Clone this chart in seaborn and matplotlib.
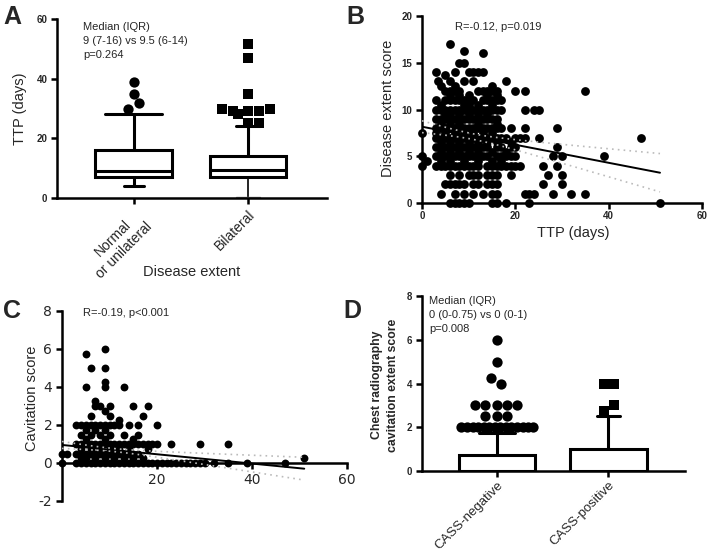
import numpy as np
import pandas as pd
import matplotlib
matplotlib.use("Agg")
import matplotlib.pyplot as plt
import seaborn as sns
from matplotlib.patches import Rectangle

# ---------------- Panel A: TTP by disease extent (box plot stats) ----------------
a_groups = ["Normal\nor unilateral", "Bilateral"]
a_whislo = [4, 0.5]
a_q1 = [7, 7]
a_med = [9, 9.5]
a_q3 = [16, 14]
a_whishi = [28, 24]
a_cap_top = [0.5, 0.21]
a_cap_bot = [0.175, 0.21]
a_out_normal_y = [30, 32, 35, 39]
a_out_normal_dx = [-0.05, 0.045, 0.0, 0.0]
a_out_bil_y = [25.2, 25.2, 28, 29, 29, 29, 30, 30, 35, 47, 51.5]
a_out_bil_dx = [0.0, 0.1, -0.09, -0.13, 0.0, 0.1, -0.225, 0.19, 0.0, 0.0, 0.0]
a_ticks = [0, 20, 40, 60]

# ---------------- Panel B: disease extent score vs TTP ----------------
b_rows = {
    17: [6], 16.3: [9], 16: [13], 15: [8, 9],
    14: [3, 7, 10, 11, 12, 13], 13.7: [5],
    13: [3.5, 6, 9, 11, 18], 12.5: [4, 7, 15],
    12: [5, 6, 7, 8, 12, 13, 14, 15, 16, 20, 22, 35],
    11.5: [6, 8, 10, 14, 16],
    11: [3, 5, 6, 7, 8, 9, 10, 11, 13, 14, 15, 16, 17],
    10.5: [4, 9, 10, 12, 15],
    10: [3, 4, 5, 6, 7, 8, 9, 10, 11, 12, 13, 14, 15, 16, 17, 22, 24, 25],
    9.5: [5, 6, 8, 10, 12, 14],
    9: [3, 4, 5, 6, 7, 8, 9, 10, 11, 12, 13, 14, 15, 16],
    8.5: [4, 6, 8, 12, 16],
    8: [3, 4, 5, 6, 7, 8, 9, 10, 11, 12, 13, 14, 15, 16, 17, 19, 22, 29],
    7.5: [0, 3, 5, 7, 9, 11, 13, 15],
    7: [3, 4, 5, 6, 7, 8, 9, 10, 11, 12, 13, 14, 15, 16, 17, 18, 20, 21, 22, 25, 47],
    6.5: [4, 6, 8, 10, 12, 14, 16, 19],
    6: [3, 4, 5, 6, 7, 8, 9, 10, 11, 12, 13, 14, 16, 17, 19, 20, 29],
    5.5: [4, 6, 8, 10, 12, 15, 18],
    5: [0, 3, 4, 5, 6, 7, 8, 9, 10, 11, 12, 13, 14, 16, 17, 18, 19, 20, 28, 30, 39],
    4.5: [1, 4, 6, 9, 12, 15, 17],
    4: [0, 3, 4, 5, 6, 7, 8, 9, 10, 11, 12, 14, 15, 16, 17, 18, 19, 20, 21, 26, 29],
    3: [6, 8, 10, 11, 12, 14, 15, 16, 19, 27, 30],
    2: [5, 6, 7, 8, 9, 11, 12, 14, 15, 16, 26, 30],
    1: [4, 7, 9, 11, 13, 15, 16, 22, 23, 24, 28, 32, 35],
    0: [6, 7, 8, 9, 10, 15, 16, 18, 23, 51],
}
b_fit_intercept = 8.16
b_fit_slope = -0.0965
b_fit_xmax = 51
b_ci_xbar = 11
b_ci_center = 0.3
b_ci_end = 2.05
b_xticks = [0, 20, 40, 60]
b_yticks = [0, 5, 10, 15, 20]

# ---------------- Panel C: cavitation score vs TTP ----------------
c_rows = {
    6: [9], 5.75: [5], 5: [6, 9], 4.25: [9], 4: [5, 9, 13],
    3.25: [7], 3: [7, 8, 10, 15, 18], 2.75: [9], 2.5: [6, 10, 17], 2.25: [12],
    2: [3, 4, 5, 6, 7, 8, 9, 10, 11, 12, 14, 16, 20],
    1.75: [5, 7, 9], 1.5: [4, 6, 8, 10, 13, 16], 1.25: [5, 9, 15],
    1: [3, 4, 5, 6, 7, 8, 9, 10, 11, 12, 13, 14, 15, 16, 17, 18, 19, 20, 23, 29, 35],
    0.75: [4, 6, 8, 10, 12, 14, 18],
    0.5: [0, 1, 3, 4, 5, 6, 7, 8, 9, 10, 11, 12, 13, 14, 15, 16],
    0.25: [4, 5, 7, 9, 11, 13, 15, 17, 51],
    0: [0, 3, 4, 5, 6, 7, 8, 9, 10, 11, 12, 13, 14, 15, 16, 17, 18, 19, 20, 21, 22,
        23, 24, 25, 26, 27, 28, 29, 30, 32, 35, 39, 47],
}
c_fit_intercept = 0.95
c_fit_slope = -0.0245
c_fit_xmax = 51
c_ci_xbar = 11
c_ci_center = 0.08
c_ci_end = 0.6
c_xticks = [20, 40, 60]
c_yticks = [-2, 0, 2, 4, 6, 8]

# ---------------- Panel D: cavitation extent by CASS ----------------
d_groups = ["CASS-negative", "CASS-positive"]
d_q3 = [0.75, 1.0]
d_whishi = [1.75, 2.5]
d_cap_w = [0.33, 0.21]
d_neg_out_y = [2] * 14 + [2.5, 2.5, 2.5, 3, 3, 3, 3, 3, 4, 4.25, 5, 6]
d_neg_out_dx = [-0.32, -0.27, -0.22, -0.17, -0.12, -0.07, -0.02, 0.03, 0.08, 0.13,
                0.18, 0.23, 0.28, 0.32,
                -0.11, 0.0, 0.09, -0.2, -0.11, 0.0, 0.09, 0.18, 0.04, -0.05, 0.0, 0.0]
d_pos_out_y = [2.75, 3, 4, 4]
d_pos_out_dx = [-0.04, 0.05, -0.04, 0.05]
d_yticks = [0, 2, 4, 6, 8]

# ---------------- figure ----------------
sns.set_style("ticks")
plt.rcParams["font.family"] = ["Liberation Sans", "DejaVu Sans"]
W, H = 709, 559
fig = plt.figure(figsize=(W / 100, H / 100), dpi=100)

def rect(l, t, r, b):
    return [l / W, 1 - b / H, (r - l) / W, (b - t) / H]

LW = 1.8
TICKFONT = dict(fontsize=7, fontweight="bold")

def style_axes(ax):
    for s in ["top", "right"]:
        ax.spines[s].set_visible(False)
    for s in ["left", "bottom"]:
        ax.spines[s].set_linewidth(LW)
        ax.spines[s].set_color("black")
    ax.tick_params(width=LW, length=4, color="black", pad=3)

def ftext(x, y, s, **kw):
    fig.text(x / W, 1 - y / H, s, **kw)

# ---- A ----
axA = fig.add_axes(rect(57, 19, 327, 198))
style_axes(axA)
axA.set_xlim(-0.675, 1.693)
axA.set_ylim(0, 60)
bw = 0.675
for i in range(2):
    axA.add_patch(Rectangle((i - bw / 2, a_q1[i]), bw, a_q3[i] - a_q1[i],
                            fill=False, lw=2.2, ec="black", zorder=3))
    axA.plot([i - bw / 2, i + bw / 2], [a_med[i]] * 2, color="black", lw=2.2)
    axA.plot([i, i], [a_q3[i], a_whishi[i]], color="black", lw=2.2)
    axA.plot([i, i], [a_q1[i], a_whislo[i]], color="black", lw=2.2 if i == 0 else 1.2)
    axA.plot([i - a_cap_top[i] / 2, i + a_cap_top[i] / 2], [a_whishi[i]] * 2, color="black", lw=2.2)
    axA.plot([i - a_cap_bot[i] / 2, i + a_cap_bot[i] / 2], [a_whislo[i]] * 2,
             color="black" if i == 0 else "#888888", lw=2.2 if i == 0 else 1.0)
sns.scatterplot(x=np.array(a_out_normal_dx) + 0, y=a_out_normal_y, ax=axA, color="black",
                marker="o", s=55, linewidth=0, clip_on=False, zorder=4)
sns.scatterplot(x=np.array(a_out_bil_dx) + 1, y=a_out_bil_y, ax=axA, color="black",
                marker="s", s=45, linewidth=0, clip_on=False, zorder=4)
axA.set_yticks(a_ticks)
axA.set_yticklabels([str(t) for t in a_ticks], **TICKFONT)
axA.set_xticks([0, 1])
axA.set_xticklabels(a_groups, rotation=45, ha="right", rotation_mode="anchor",
                    fontsize=10, multialignment="center")
axA.set_ylabel("TTP (days)", fontsize=10.5)
axA.yaxis.set_label_coords((27 - 57) / 270, 0.5)
ftext(192, 272, "Disease extent", fontsize=10.5, ha="center", va="center")
ftext(83, 26.5, "Median (IQR)", fontsize=8, va="center")
ftext(83, 41, "9 (7-16) vs 9.5 (6-14)", fontsize=8, va="center")
ftext(83, 55, "p=0.264", fontsize=8, va="center")
ftext(3, 17, "A", fontsize=18, fontweight="bold", va="center")

# ---- B ----
axB = fig.add_axes(rect(422, 16, 702, 203))
style_axes(axB)
b_ttp = [x for y, xs in b_rows.items() for x in xs]
b_score = [y for y, xs in b_rows.items() for x in xs]
sns.scatterplot(x=b_ttp, y=b_score, ax=axB, color="black", s=40, linewidth=0,
                clip_on=False, zorder=3)
xx = np.linspace(0, b_fit_xmax, 60)
yy = b_fit_intercept + b_fit_slope * xx
k = (b_ci_end ** 2 - b_ci_center ** 2) / (b_fit_xmax - b_ci_xbar) ** 2
hw = np.sqrt(b_ci_center ** 2 + k * (xx - b_ci_xbar) ** 2)
axB.plot(xx, yy, color="black", lw=1.4, zorder=4)
axB.plot(xx, yy + hw, color="#bbbbbb", lw=1.2, ls=(0, (1, 2.5)), zorder=4)
axB.plot(xx, yy - hw, color="#bbbbbb", lw=1.2, ls=(0, (1, 2.5)), zorder=4)
axB.set_xlim(0, 60)
axB.set_ylim(0, 20)
axB.set_xticks(b_xticks)
axB.set_xticklabels([str(t) for t in b_xticks], **TICKFONT)
axB.set_yticks(b_yticks)
axB.set_yticklabels([str(t) for t in b_yticks], **TICKFONT)
axB.tick_params(axis="x", pad=1.5)
axB.set_xlabel("TTP (days)", fontsize=10.5)
axB.xaxis.set_label_coords((573 - 422) / 280, -(226 - 203) / 187)
axB.set_ylabel("Disease extent score", fontsize=10.5)
axB.yaxis.set_label_coords((395 - 422) / 280, (203 - 108) / 187)
ftext(455, 27, "R=-0.12, p=0.019", fontsize=8, va="center")
ftext(346, 17, "B", fontsize=18, fontweight="bold", va="center")

# ---- C ----
axC = fig.add_axes(rect(62, 311, 347, 501))
style_axes(axC)
axC.spines["bottom"].set_position(("data", 0))
c_ttp = [x for y, xs in c_rows.items() for x in xs]
c_score = [y for y, xs in c_rows.items() for x in xs]
sns.scatterplot(x=c_ttp, y=c_score, ax=axC, color="black", s=32, linewidth=0,
                clip_on=False, zorder=3)
xx = np.linspace(0, c_fit_xmax, 60)
yy = c_fit_intercept + c_fit_slope * xx
k = (c_ci_end ** 2 - c_ci_center ** 2) / (c_fit_xmax - c_ci_xbar) ** 2
hw = np.sqrt(c_ci_center ** 2 + k * (xx - c_ci_xbar) ** 2)
axC.plot(xx, yy, color="black", lw=1.4, zorder=4)
axC.plot(xx, yy + hw, color="#bbbbbb", lw=1.2, ls=(0, (1, 2.5)), zorder=4)
axC.plot(xx, yy - hw, color="#bbbbbb", lw=1.2, ls=(0, (1, 2.5)), zorder=4)
axC.set_xlim(0, 60)
axC.set_ylim(-2, 8)
axC.set_xticks(c_xticks)
axC.set_xticklabels([str(t) for t in c_xticks], fontsize=10, family="DejaVu Sans")
axC.set_yticks(c_yticks)
axC.set_yticklabels([str(t) for t in c_yticks], fontsize=10, family="DejaVu Sans")
axC.set_ylabel("Cavitation score", fontsize=10.5)
axC.yaxis.set_label_coords((39 - 62) / 285, (501 - 398) / 190)
ftext(83, 313, "R=-0.19, p<0.001", fontsize=8, va="center")
ftext(3, 311, "C", fontsize=18, fontweight="bold", va="center")

# ---- D ----
axD = fig.add_axes(rect(422, 296, 685, 471))
style_axes(axD)
dfD = pd.DataFrame({"group": d_groups, "value": d_q3})
sns.barplot(data=dfD, x="group", y="value", ax=axD, color="white", edgecolor="black",
            linewidth=2.2, width=0.69, errorbar=None, zorder=3)
for i in range(2):
    axD.plot([i, i], [d_q3[i], d_whishi[i]], color="black", lw=2.2, zorder=2)
    axD.plot([i - d_cap_w[i] / 2, i + d_cap_w[i] / 2], [d_whishi[i]] * 2, color="black", lw=2.2)
sns.scatterplot(x=np.array(d_neg_out_dx) + 0, y=d_neg_out_y, ax=axD, color="black",
                marker="o", s=55, linewidth=0, clip_on=False, zorder=4)
sns.scatterplot(x=np.array(d_pos_out_dx) + 1, y=d_pos_out_y, ax=axD, color="black",
                marker="s", s=45, linewidth=0, clip_on=False, zorder=4)
axD.set_xlim(-0.674, 1.69)
axD.set_ylim(0, 8)
axD.set_yticks(d_yticks)
axD.set_yticklabels([str(t) for t in d_yticks], **TICKFONT)
axD.set_xticks([0, 1])
axD.set_xticklabels(d_groups, rotation=45, ha="right", rotation_mode="anchor", fontsize=9.5)
axD.tick_params(axis="x", pad=2)
axD.set_xlabel("")
axD.set_ylabel("Chest radiography\ncavitation extent score", fontsize=8.8, fontweight="bold",
               linespacing=1.45)
axD.yaxis.set_label_coords((399 - 422) / 263, (471 - 385) / 175)
ftext(429, 301.5, "Median (IQR)", fontsize=8, va="center")
ftext(429, 315, "0 (0-0.75) vs 0 (0-1)", fontsize=8, va="center")
ftext(429, 328.5, "p=0.008", fontsize=8, va="center")
ftext(343, 311, "D", fontsize=18, fontweight="bold", va="center")

fig.savefig("out.png", dpi=100)
